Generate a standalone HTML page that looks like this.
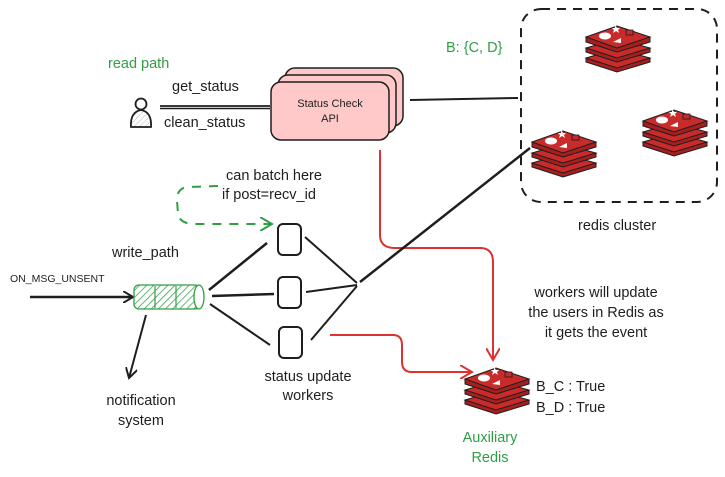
<!DOCTYPE html>
<html><head><meta charset="utf-8"><style>
html,body{margin:0;padding:0;background:#fff;}
svg{display:block}
text{font-family:"Liberation Sans",sans-serif;font-size:14.5px;fill:#1e1e1e}
.g{fill:#2f9e44}
</style></head><body>
<svg width="725" height="477" viewBox="0 0 725 477" xmlns="http://www.w3.org/2000/svg">
<defs>
<pattern id="h" width="5" height="5" patternUnits="userSpaceOnUse" patternTransform="rotate(45)">
<rect width="5" height="5" fill="#fff"/><line x1="0" y1="0" x2="0" y2="5" stroke="#2f9e44" stroke-width="1.5"/></pattern>
<pattern id="ph" width="4" height="4" patternUnits="userSpaceOnUse" patternTransform="rotate(45)">
<rect width="4" height="4" fill="#fff"/><line x1="0" y1="0" x2="0" y2="4" stroke="#bbb" stroke-width="1"/></pattern>
<g id="r">
<path d="M2,38 L2,42 L33,52 L66,42 L66,38" fill="#a61e1e" stroke="#1e1e1e" stroke-width="1"/>
<path d="M2,38 L33,29 L66,38 L33,48 Z" fill="#c92a2a" stroke="#1e1e1e" stroke-width="1"/>
<path d="M2,28 L2,32 L33,42 L66,32 L66,28" fill="#a61e1e" stroke="#1e1e1e" stroke-width="1"/>
<path d="M2,28 L33,19 L66,28 L33,38 Z" fill="#c92a2a" stroke="#1e1e1e" stroke-width="1"/>
<path d="M2,17 L2,22 L33,32 L66,22 L66,17" fill="#a61e1e" stroke="#1e1e1e" stroke-width="1"/>
<path d="M2,17 L33,6 L66,17 L33,28 Z" fill="#c92a2a" stroke="#1e1e1e" stroke-width="1"/>
<ellipse cx="21" cy="16" rx="6" ry="3.5" fill="#fff"/>
<path d="M29,22 L37,18 L37,23 Z" fill="#fff"/>
<path d="M31,5 l2,3 3,0 -2,2 1,3 -3,-2 -3,2 1,-3 -2,-2 3,0z" fill="#fff"/>
<rect x="42" y="10" width="7" height="5" fill="#c92a2a" stroke="#1e1e1e" stroke-width="0.8"/>
</g>
<marker id="ab" markerWidth="12" markerHeight="12" refX="10" refY="6" orient="auto" markerUnits="userSpaceOnUse"><path d="M0,0 L10,6 L0,12" fill="none" stroke="#1e1e1e" stroke-width="2"/></marker>
<marker id="ar" markerWidth="14" markerHeight="14" refX="12" refY="7" orient="auto" markerUnits="userSpaceOnUse"><path d="M0,0 L12,7 L0,14" fill="none" stroke="#e03131" stroke-width="2"/></marker>
<marker id="ag" markerWidth="14" markerHeight="14" refX="12" refY="7" orient="auto" markerUnits="userSpaceOnUse"><path d="M0,0 L12,7 L0,14" fill="none" stroke="#2f9e44" stroke-width="2"/></marker>
</defs>

<text x="108" y="68" class="g">read path</text>
<circle cx="141" cy="104" r="5.5" fill="#fff" stroke="#1e1e1e" stroke-width="1.8"/>
<path d="M131,127 Q130,112 141,110 Q152,112 151,127 Z" fill="url(#ph)" stroke="#1e1e1e" stroke-width="1.8"/>
<line x1="160" y1="106" x2="270" y2="106" stroke="#1e1e1e" stroke-width="1.8"/>
<line x1="160" y1="108.5" x2="270" y2="108.5" stroke="#1e1e1e" stroke-width="1.5"/>
<text x="172" y="91">get_status</text>
<text x="164" y="127">clean_status</text>

<rect x="285" y="68" width="118" height="58" rx="10" fill="#ffc9c9" stroke="#1e1e1e" stroke-width="1.5"/>
<rect x="278" y="75" width="118" height="58" rx="10" fill="#ffc9c9" stroke="#1e1e1e" stroke-width="1.5"/>
<rect x="271" y="82" width="118" height="58" rx="10" fill="#ffc9c9" stroke="#1e1e1e" stroke-width="1.5"/>
<text x="330" y="107" text-anchor="middle" style="font-size:11px">Status Check</text>
<text x="330" y="122" text-anchor="middle" style="font-size:11px">API</text>
<line x1="410" y1="100" x2="518" y2="98" stroke="#1e1e1e" stroke-width="2"/>

<rect x="521" y="9" width="196" height="193" rx="20" fill="none" stroke="#1e1e1e" stroke-width="2" stroke-dasharray="9,7"/>
<text x="446" y="52" class="g">B: {C, D}</text>
<use href="#r" x="584" y="20"/>
<use href="#r" x="641" y="104"/>
<use href="#r" x="530" y="125"/>
<text x="578" y="230">redis cluster</text>

<path d="M380,150 L380,235 Q380,248 395,248 L480,248 Q493,248 493,262 L493,360" fill="none" stroke="#e03131" stroke-width="2" marker-end="url(#ar)"/>
<path d="M330,335 L393,335 Q402,335 402,345 L402,362 Q402,372 412,372 L472,372" fill="none" stroke="#e03131" stroke-width="2" marker-end="url(#ar)"/>

<path d="M218,186 L188,187 Q177,188 177,200 L178,214 Q180,224 195,224 L272,224" fill="none" stroke="#2f9e44" stroke-width="2" stroke-dasharray="9,8" marker-end="url(#ag)"/>
<text x="226" y="180">can batch here</text>
<text x="222" y="199">if post=recv_id</text>

<text x="112" y="257">write_path</text>
<text x="10" y="282" style="font-size:10.5px">ON_MSG_UNSENT</text>
<line x1="30" y1="297" x2="133" y2="297" stroke="#1e1e1e" stroke-width="2.5" marker-end="url(#ab)"/>
<rect x="134" y="285" width="66" height="24" rx="5" fill="url(#h)" stroke="#2f9e44" stroke-width="1.3"/>
<line x1="155" y1="286" x2="155" y2="308" stroke="#2f9e44" stroke-width="1.2"/>
<line x1="176" y1="286" x2="176" y2="308" stroke="#2f9e44" stroke-width="1.2"/>
<ellipse cx="199" cy="297" rx="5" ry="12" fill="#fff" stroke="#2f9e44" stroke-width="1.3"/>
<line x1="146" y1="315" x2="129" y2="378" stroke="#1e1e1e" stroke-width="2" marker-end="url(#ab)"/>
<text x="141" y="405" text-anchor="middle">notification</text>
<text x="141" y="425" text-anchor="middle">system</text>

<line x1="209" y1="290" x2="267" y2="243" stroke="#1e1e1e" stroke-width="2.5"/>
<line x1="212" y1="296" x2="274" y2="294" stroke="#1e1e1e" stroke-width="2.5"/>
<line x1="210" y1="304" x2="270" y2="345" stroke="#1e1e1e" stroke-width="2"/>
<rect x="278" y="224" width="23" height="31" rx="5" fill="#fff" stroke="#1e1e1e" stroke-width="2"/>
<rect x="278" y="277" width="23" height="31" rx="5" fill="#fff" stroke="#1e1e1e" stroke-width="2"/>
<rect x="279" y="327" width="23" height="31" rx="5" fill="#fff" stroke="#1e1e1e" stroke-width="2"/>
<line x1="305" y1="237" x2="357" y2="283" stroke="#1e1e1e" stroke-width="2"/>
<line x1="306" y1="292" x2="357" y2="285" stroke="#1e1e1e" stroke-width="2"/>
<line x1="311" y1="340" x2="357" y2="286" stroke="#1e1e1e" stroke-width="2"/>
<line x1="360" y1="282" x2="530" y2="148" stroke="#1e1e1e" stroke-width="2.5"/>
<text x="308" y="381" text-anchor="middle">status update</text>
<text x="308" y="400" text-anchor="middle">workers</text>

<use href="#r" x="463" y="362"/>
<text x="536" y="391">B_C : True</text>
<text x="536" y="412">B_D : True</text>
<text x="490" y="442" text-anchor="middle" class="g">Auxiliary</text>
<text x="490" y="462" text-anchor="middle" class="g">Redis</text>
<text x="596" y="297" text-anchor="middle">workers will update</text>
<text x="596" y="317" text-anchor="middle">the users in Redis as</text>
<text x="596" y="337" text-anchor="middle">it gets the event</text>
</svg>
</body></html>
